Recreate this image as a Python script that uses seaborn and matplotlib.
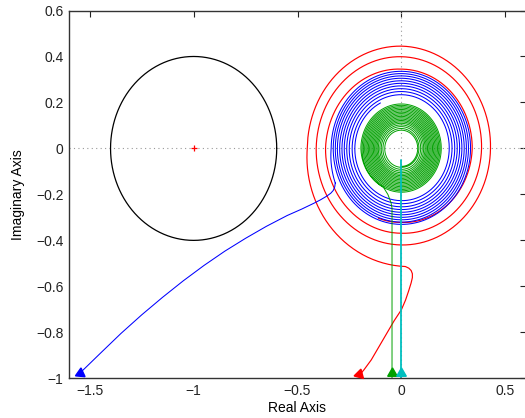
import numpy as np
import seaborn as sns
import matplotlib.pyplot as plt

# values
circle_center = (-1.0, 0.0)
circle_radius = 0.4

# blue branch: tail from the lower left, then a clockwise spiral round the origin
blue_tail_x = [-1.548, -1.45, -1.35, -1.25, -1.15, -1.05, -0.95, -0.85, -0.75, -0.65,
               -0.55, -0.48, -0.42, -0.39, -0.36, -0.34, -0.328, -0.321, -0.318]
blue_tail_y = [-0.978, -0.892, -0.805, -0.724, -0.648, -0.576, -0.509, -0.447, -0.391, -0.339,
               -0.292, -0.264, -0.238, -0.224, -0.208, -0.195, -0.183, -0.168, -0.15]
blue_start_deg = 205.3
blue_start_r = 0.352
blue_turn_r = [0.338, 0.328, 0.318, 0.308, 0.297, 0.286, 0.275, 0.263, 0.251, 0.237, 0.224]
blue_end_deg = 117 - 3600
blue_end_r = 0.222

# red branch: S-shaped tail from the bottom, then a spiral (radius at every quarter turn)
red_tail_x = [-0.205, -0.18, -0.145, -0.108, -0.07, -0.035, 0.0, 0.02, 0.035, 0.047,
              0.053, 0.053, 0.047, 0.036, 0.02]
red_tail_y = [-0.99, -0.963, -0.92, -0.863, -0.805, -0.75, -0.702, -0.66, -0.62, -0.585,
              -0.562, -0.545, -0.531, -0.521, -0.514]
red_start_deg = 272
red_start_r = 0.514
red_quarter_r = [0.453, 0.445, 0.429, 0.42, 0.41, 0.399, 0.386, 0.369, 0.365,
                 0.345, 0.341, 0.322]
red_end_deg = -830
red_end_r = 0.323

# green branch: vertical tail, then a tight spiral
green_tail_x = [-0.045, -0.045, -0.05, -0.065, -0.087]
green_tail_y = [-1.0, -0.26, -0.235, -0.2, -0.168]
green_start_deg = 242
green_start_r = 0.189
green_turn_r = [0.195, 0.189, 0.183, 0.177, 0.171, 0.165, 0.159, 0.153, 0.147, 0.141,
                0.135, 0.129, 0.123, 0.117, 0.111, 0.104, 0.097, 0.089, 0.080]
green_end_deg = 180 - 360 * 18 - 270
green_end_r = 0.078

# cyan branch: straight up the imaginary axis
cyan_x = [0.0, 0.0]
cyan_y = [-1.0, -0.052]

# arrow heads (x, y, rotation of the triangle)
arrow_blue = (-1.546, -0.978, 115)
arrow_red = (-0.205, -0.982, 105)
arrow_green = (-0.045, -0.975, 0)
arrow_cyan = (0.0, -0.975, 0)

col_blue = '#0000ff'
col_red = '#ff0000'
col_green = '#00a000'
col_cyan = '#00bfbf'


def spiral_path(knot_deg, knot_r):
    knot_deg = np.asarray(knot_deg, dtype=float)
    ang = np.linspace(knot_deg[0], knot_deg[-1], int(abs(knot_deg[-1] - knot_deg[0])) + 1)
    r = np.interp(-ang, -knot_deg, knot_r)
    t = np.deg2rad(ang)
    return r * np.cos(t), r * np.sin(t)


sns.set_style('white')
plt.rcParams['font.family'] = ['Liberation Sans', 'DejaVu Sans']
plt.rcParams['axes.unicode_minus'] = True

fig = plt.figure(figsize=(5.25, 4.18), dpi=100)
ax = fig.add_axes([69 / 525, 39.7 / 418, 457 / 525, 367.8 / 418])

# zero lines
ax.axhline(0, color='#999999', ls=(0, (1, 3)), lw=0.8, zorder=1)
ax.axvline(0, color='#999999', ls=(0, (1, 3)), lw=0.8, zorder=1)

# circle around -1
th = np.deg2rad(np.arange(0, 361, 1))
sns.lineplot(x=circle_center[0] + circle_radius * np.cos(th),
             y=circle_center[1] + circle_radius * np.sin(th),
             sort=False, estimator=None, color='black', lw=0.9, ax=ax)
ax.plot(circle_center[0], circle_center[1], '+', color=col_red, ms=5, mew=0.9)

# red
red_deg = [red_start_deg] + [180 - 90 * i for i in range(len(red_quarter_r))] + [red_end_deg]
red_r = [red_start_r] + red_quarter_r + [red_end_r]
sx, sy = spiral_path(red_deg, red_r)
sns.lineplot(x=np.r_[red_tail_x, sx], y=np.r_[red_tail_y, sy], sort=False,
             estimator=None, color=col_red, lw=0.85, ax=ax)

# blue
blue_deg = [blue_start_deg] + [180 - 360 * k for k in range(len(blue_turn_r))] + [blue_end_deg]
blue_r = [blue_start_r] + blue_turn_r + [blue_end_r]
sx, sy = spiral_path(blue_deg, blue_r)
sns.lineplot(x=np.r_[blue_tail_x, sx], y=np.r_[blue_tail_y, sy], sort=False,
             estimator=None, color=col_blue, lw=0.75, ax=ax)

# green
green_deg = [green_start_deg] + [180 - 360 * k for k in range(len(green_turn_r))] + [green_end_deg]
green_r = [green_start_r] + green_turn_r + [green_end_r]
sx, sy = spiral_path(green_deg, green_r)
sns.lineplot(x=np.r_[green_tail_x, sx], y=np.r_[green_tail_y, sy], sort=False,
             estimator=None, color=col_green, lw=0.7, ax=ax)

# cyan
sns.lineplot(x=cyan_x, y=cyan_y, sort=False, estimator=None, color=col_cyan, lw=1.3, ax=ax)

for (ax_x, ax_y, rot), c in [(arrow_blue, col_blue), (arrow_red, col_red),
                             (arrow_green, col_green), (arrow_cyan, col_cyan)]:
    ax.plot(ax_x, ax_y, marker=(3, 0, rot), color=c, ms=8, mec=c, clip_on=False, zorder=5)

ax.set_xlim(-1.6, 0.6)
ax.set_ylim(-1.0, 0.6)
xt = [-1.5, -1, -0.5, 0, 0.5]
yt = [-1, -0.8, -0.6, -0.4, -0.2, 0, 0.2, 0.4, 0.6]
ax.set_xticks(xt)
ax.set_xticklabels(['\u22121.5', '\u22121', '\u22120.5', '0', '0.5'])
ax.set_yticks(yt)
ax.set_yticklabels(['\u22121', '\u22120.8', '\u22120.6', '\u22120.4', '\u22120.2', '0', '0.2', '0.4', '0.6'])
ax.tick_params(direction='in', top=True, right=True, length=4, width=0.8,
               labelsize=10, colors='#222222', pad=4)
for s in ax.spines.values():
    s.set_color('#333333')
    s.set_linewidth(1.0)
ax.set_xlabel('Real Axis', fontsize=10, color='black', labelpad=2)
ax.set_ylabel('Imaginary Axis', fontsize=10, color='black', labelpad=8)

fig.savefig('out.png', dpi=100)
